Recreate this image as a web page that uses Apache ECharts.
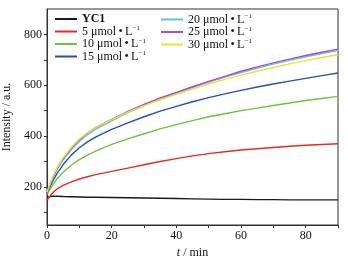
<!DOCTYPE html>
<html>
<head>
<meta charset="utf-8">
<script src="https://cdn.jsdelivr.net/npm/echarts@6/dist/echarts.min.js"></script>
<style>
  html, body { margin: 0; padding: 0; background: #fff; }
  #chart { width: 348px; height: 259px; }
</style>
</head>
<body>
<div id="chart"></div>
<script>
// time points (min)
const times = [0, 1, 2, 3, 5, 7.5, 10, 12.5, 15, 20, 25, 30, 35, 40, 45, 50, 55, 60, 65, 70, 75, 80, 85, 90];

const yc1 = [158, 162, 163, 163, 162, 161, 160, 159, 159, 158, 157, 156, 155, 154, 153, 152, 151, 151, 150, 150, 149, 149, 149, 149];
const c5  = [148, 165, 180, 191, 206, 220, 231, 240, 248, 261, 274, 287, 300, 311, 322, 331, 338, 345, 350, 355, 360, 364, 367, 370];
const c10 = [170, 193, 212, 230, 258, 285, 307, 325, 341, 367, 389, 409, 428, 445, 461, 476, 488, 500, 510, 520, 530, 540, 548, 556];
const c15 = [175, 203, 228, 250, 288, 325, 354, 377, 396, 426, 452, 476, 498, 517, 535, 551, 566, 580, 593, 605, 616, 627, 638, 648];
const c20 = [176, 210, 240, 266, 307, 346, 379, 405, 426, 460, 492, 520, 546, 569, 591, 612, 632, 650, 667, 683, 698, 712, 725, 736];
const c25 = [176, 212, 243, 270, 312, 352, 385, 412, 433, 466, 497, 525, 550, 572, 594, 615, 635, 655, 672, 688, 703, 717, 730, 742];
const c30 = [180, 215, 246, 273, 315, 355, 388, 413, 433, 465, 494, 520, 543, 564, 585, 605, 623, 640, 655, 670, 684, 697, 709, 720];

const names = ['YC1', '5', '10', '15', '20', '25', '30'];
const colors = ['#1a1a1a', '#e82a22', '#6cc43c', '#2350b4', '#5cc8dc', '#b04cbc', '#ece032'];
const values = [yc1, c5, c10, c15, c20, c25, c30];

const yTicks = [100, 200, 300, 400, 500, 600, 700, 800];
const yLabels = [200, 400, 600, 800];
const xTicks = [0, 10, 20, 30, 40, 50, 60, 70, 80, 90];
const xLabels = [0, 20, 40, 60, 80];

const FONT = '"Liberation Serif", "DejaVu Serif", serif';

const chart = echarts.init(document.getElementById('chart'));

function legendText(name) {
    if (name === 'YC1') return '{b|YC1}';
    return '{n|' + name + ' \u03bcmol\u2009\u2022\u2009L}{s|\u22121}';
}
const legendRich = {
    b: { fontFamily: FONT, fontSize: 12, fontWeight: 'bold', color: '#111' },
    n: { fontFamily: FONT, fontSize: 12, color: '#111' },
    s: { fontFamily: FONT, fontSize: 7, color: '#111', verticalAlign: 'top', padding: [0, 0, 6, 0] }
};

let option = {
    animation: false,
    grid: {
        left: 47, right: 10, top: 9, bottom: 34,
        outerBoundsMode: 'none',
        show: true, borderColor: '#333', borderWidth: 1
    },
    legend: [
        {
            data: names.slice(0, 4),
            orient: 'vertical',
            left: 50, top: 8,
            itemWidth: 22, itemHeight: 2, itemGap: 0,
            icon: 'rect',
            formatter: legendText,
            textStyle: { rich: legendRich }
        },
        {
            data: names.slice(4),
            orient: 'vertical',
            left: 156, top: 8,
            itemWidth: 22, itemHeight: 2, itemGap: 0,
            icon: 'rect',
            formatter: legendText,
            textStyle: { rich: legendRich }
        }
    ],
    xAxis: {
        type: 'value',
        min: 0, max: 90,
        name: '{i|t} / min',
        nameLocation: 'middle',
        nameGap: 17,
        nameTextStyle: {
            fontFamily: FONT, fontSize: 12, color: '#111',
            rich: {
                i: { fontFamily: FONT, fontSize: 12, fontStyle: 'italic', color: '#111' }
            }
        },
        axisLine: { lineStyle: { color: '#333', width: 1 } },
        axisTick: { inside: false, length: 3, customValues: xTicks, lineStyle: { color: '#333' } },
        axisLabel: { customValues: xLabels, fontFamily: FONT, fontSize: 12, color: '#111', margin: 5 },
        splitLine: { show: false }
    },
    yAxis: {
        type: 'value',
        min: 50, max: 900,
        name: 'Intensity / a.u.',
        nameLocation: 'middle',
        nameGap: 25,
        nameTextStyle: { fontFamily: FONT, fontSize: 12, color: '#111' },
        axisLine: { show: true, lineStyle: { color: '#333', width: 1 } },
        axisTick: { show: true, inside: false, length: 3, customValues: yTicks, lineStyle: { color: '#333' } },
        axisLabel: { customValues: yLabels, fontFamily: FONT, fontSize: 12, color: '#111', margin: 5 },
        splitLine: { show: false }
    },
    series: names.map((n, k) => ({
        name: n,
        type: 'line',
        showSymbol: false,
        symbol: 'none',
        data: times.map((t, i) => [t, values[k][i]]),
        lineStyle: { color: colors[k], width: 1.4 },
        itemStyle: { color: colors[k] }
    }))
};

chart.setOption(option);
</script>
</body>
</html>
